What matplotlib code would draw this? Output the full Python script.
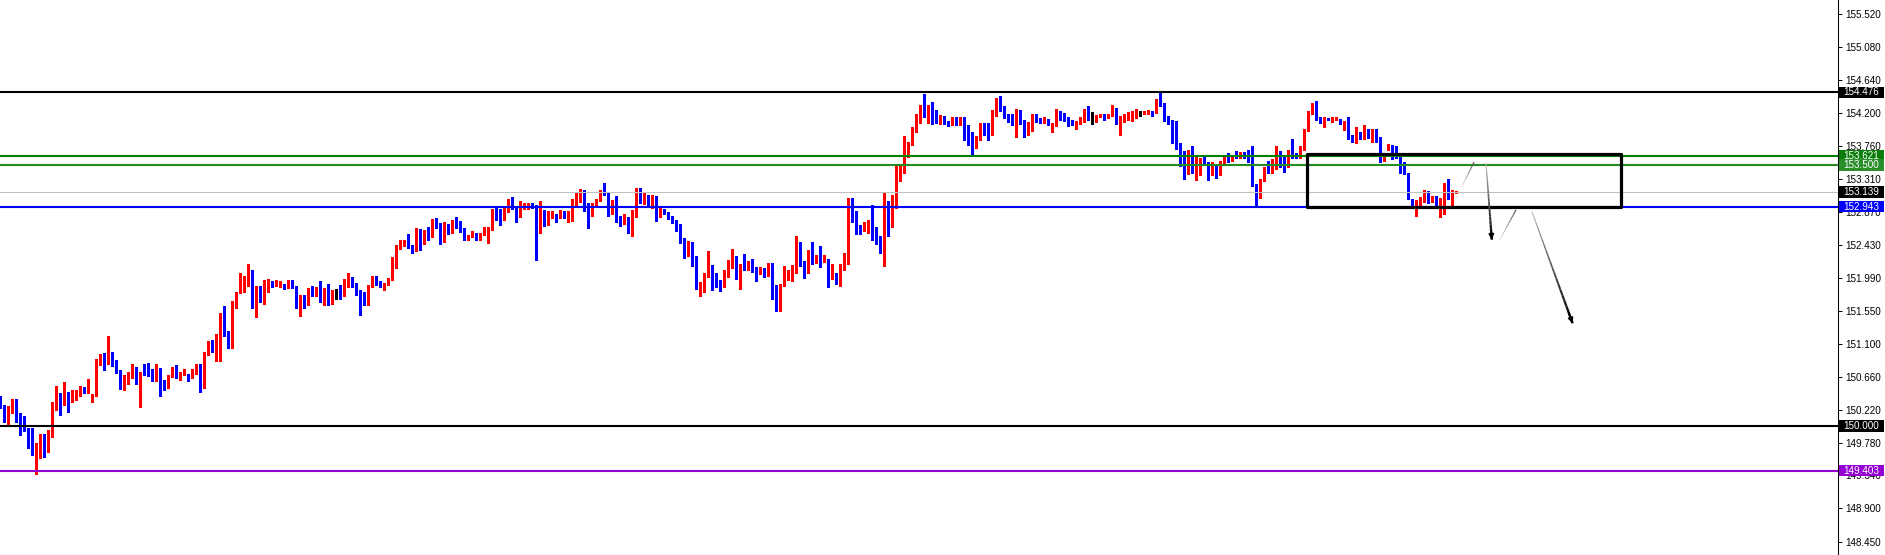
import numpy as np
import matplotlib
matplotlib.use("Agg")
import matplotlib.pyplot as plt
from matplotlib.patches import Rectangle
from matplotlib.collections import LineCollection
from matplotlib import transforms

# OHLC candles (oldest -> newest)
opens = [
    150.39, 150.25, 150.12, 150.23, 150.31, 150.17, 150.00, 149.97, 149.75, 149.61,
    149.68, 149.77, 149.65, 149.91, 150.22, 150.39, 150.35, 150.43, 150.32, 150.39,
    150.47, 150.50, 150.47, 150.36, 150.40, 150.82, 150.91, 150.90, 150.97, 150.87,
    150.73, 150.60, 150.63, 150.68, 150.74, 150.57, 150.73, 150.71, 150.70, 150.66,
    150.77, 150.61, 150.58, 150.66, 150.78, 150.68, 150.69, 150.66, 150.65, 150.72,
    150.82, 150.65, 150.97, 151.13, 151.04, 151.08, 151.52, 151.26, 151.16, 151.60,
    151.79, 151.91, 151.94, 152.03, 151.59, 151.87, 151.71, 151.84, 151.92, 151.90,
    151.91, 151.90, 151.86, 151.93, 151.88, 151.62, 151.75, 151.62, 151.80, 151.75,
    151.85, 151.73, 151.83, 151.68, 151.83, 151.83, 151.79, 151.92, 151.97, 151.89,
    151.78, 151.77, 151.62, 151.87, 151.99, 151.94, 151.88, 151.89, 151.98, 152.13,
    152.41, 152.45, 152.46, 152.42, 152.36, 152.64, 152.49, 152.60, 152.55, 152.78,
    152.66, 152.52, 152.67, 152.60, 152.73, 152.72, 152.62, 152.53, 152.55, 152.56,
    152.53, 152.58, 152.61, 152.63, 152.91, 152.90, 152.76, 152.89, 152.95, 152.92,
    152.82, 152.95, 152.96, 152.98, 152.95, 152.66, 152.82, 152.76, 152.81, 152.84,
    152.79, 152.87, 152.82, 152.75, 153.02, 153.06, 153.07, 152.90, 152.83, 152.97,
    153.03, 153.14, 153.13, 152.96, 153.03, 152.82, 152.74, 152.76, 152.62, 152.84,
    153.10, 152.99, 153.09, 152.97, 153.06, 152.81, 152.91, 152.85, 152.80, 152.76,
    152.70, 152.50, 152.39, 152.46, 152.28, 151.87, 151.92, 152.03, 152.15, 151.96,
    151.92, 151.86, 152.04, 152.13, 152.21, 151.98, 152.15, 152.10, 152.17, 152.10,
    152.05, 152.10, 152.02, 152.17, 151.75, 151.65, 151.89, 151.97, 152.04, 152.07,
    152.35, 152.16, 152.06, 152.35, 152.23, 152.24, 152.21, 152.24, 151.99, 152.04,
    151.91, 152.14, 152.25, 152.83, 152.82, 152.68, 152.62, 152.69, 152.73, 152.63,
    152.54, 152.33, 152.94, 152.76, 153.05, 153.33, 153.40, 153.75, 153.77, 153.95,
    154.11, 154.31, 154.19, 154.28, 154.17, 154.09, 154.11, 154.09, 154.05, 154.12,
    154.06, 154.10, 153.91, 153.90, 153.83, 153.88, 154.04, 153.94, 153.90, 154.22,
    154.31, 154.25, 154.15, 154.14, 154.10, 154.15, 154.08, 153.93, 154.04, 154.12,
    154.11, 154.08, 154.11, 153.95, 154.02, 154.20, 154.18, 154.13, 154.09, 154.05,
    154.06, 154.11, 154.19, 154.13, 154.10, 154.16, 154.17, 154.15, 154.18, 154.25,
    154.03, 154.10, 154.13, 154.15, 154.16, 154.20, 154.19, 154.19, 154.22, 154.20,
    154.34, 154.32, 154.11, 154.10, 154.08, 153.73, 153.64, 153.59, 153.64, 153.48,
    153.55, 153.57, 153.52, 153.38, 153.49, 153.38, 153.55, 153.60, 153.56, 153.64,
    153.61, 153.66, 153.62, 153.56, 153.23, 153.10, 153.29, 153.51, 153.48, 153.52,
    153.67, 153.56, 153.50, 153.68, 153.64, 153.60, 153.72, 153.97, 154.19, 154.31,
    154.13, 154.07, 154.13, 154.10, 154.11, 154.11, 154.06, 154.09, 153.89, 153.85,
    153.94, 153.86, 153.96, 153.86, 153.98, 153.87, 153.56, 153.71, 153.76, 153.64,
    153.61, 153.52, 153.40, 153.05, 152.97, 153.00, 153.05, 153.14, 153.01, 153.05,
    152.97, 152.97, 153.20, 153.12, 153.13,
]
highs = [
    150.40, 150.28, 150.27, 150.36, 150.37, 150.17, 150.13, 149.98, 149.97, 149.78,
    149.90, 149.89, 149.95, 150.32, 150.54, 150.44, 150.59, 150.46, 150.49, 150.48,
    150.54, 150.53, 150.63, 150.43, 150.90, 150.97, 150.98, 151.21, 150.99, 150.89,
    150.75, 150.69, 150.73, 150.83, 150.79, 150.73, 150.84, 150.85, 150.77, 150.84,
    150.78, 150.62, 150.68, 150.79, 150.82, 150.73, 150.76, 150.70, 150.77, 150.83,
    150.84, 150.99, 151.14, 151.16, 151.24, 151.52, 151.61, 151.27, 151.68, 151.80,
    152.05, 152.01, 152.17, 152.09, 151.88, 151.88, 151.96, 151.97, 151.94, 151.96,
    151.95, 151.91, 151.96, 151.96, 151.88, 151.76, 151.76, 151.85, 151.88, 151.87,
    151.95, 151.85, 151.91, 151.83, 151.84, 151.89, 151.97, 152.05, 152.00, 151.92,
    151.83, 151.80, 151.89, 152.01, 152.01, 151.95, 151.92, 151.99, 152.27, 152.43,
    152.50, 152.49, 152.58, 152.43, 152.65, 152.64, 152.63, 152.67, 152.78, 152.79,
    152.72, 152.74, 152.71, 152.76, 152.81, 152.75, 152.65, 152.56, 152.62, 152.59,
    152.59, 152.67, 152.67, 152.91, 152.93, 152.91, 152.92, 153.05, 153.07, 152.95,
    153.02, 152.99, 152.99, 152.99, 152.96, 153.02, 152.90, 152.88, 152.88, 152.85,
    152.90, 152.88, 152.89, 153.04, 153.14, 153.18, 153.16, 152.99, 152.99, 153.05,
    153.17, 153.26, 153.14, 153.03, 153.08, 152.82, 152.84, 152.81, 152.90, 153.19,
    153.19, 153.12, 153.10, 153.10, 153.08, 152.92, 152.91, 152.87, 152.82, 152.77,
    152.71, 152.52, 152.48, 152.47, 152.28, 151.93, 152.05, 152.35, 152.16, 152.05,
    151.96, 152.09, 152.23, 152.38, 152.28, 152.18, 152.31, 152.21, 152.24, 152.13,
    152.13, 152.12, 152.19, 152.19, 151.89, 151.91, 152.15, 152.10, 152.16, 152.55,
    152.47, 152.21, 152.36, 152.47, 152.29, 152.42, 152.29, 152.24, 152.17, 152.06,
    152.17, 152.32, 153.06, 153.06, 152.88, 152.70, 152.74, 152.76, 152.96, 152.67,
    152.55, 153.14, 153.02, 153.10, 153.50, 153.51, 153.89, 153.81, 154.01, 154.19,
    154.31, 154.45, 154.31, 154.35, 154.24, 154.17, 154.16, 154.09, 154.15, 154.14,
    154.14, 154.14, 154.04, 153.95, 153.89, 154.07, 154.06, 154.07, 154.24, 154.40,
    154.42, 154.29, 154.18, 154.19, 154.25, 154.24, 154.10, 154.08, 154.18, 154.18,
    154.13, 154.14, 154.12, 154.07, 154.25, 154.22, 154.20, 154.14, 154.10, 154.09,
    154.14, 154.25, 154.29, 154.21, 154.17, 154.19, 154.18, 154.19, 154.31, 154.26,
    154.16, 154.19, 154.21, 154.23, 154.25, 154.23, 154.23, 154.24, 154.23, 154.39,
    154.48, 154.33, 154.16, 154.11, 154.09, 153.80, 153.69, 153.70, 153.76, 153.61,
    153.60, 153.64, 153.54, 153.54, 153.52, 153.56, 153.64, 153.66, 153.64, 153.69,
    153.68, 153.68, 153.70, 153.76, 153.24, 153.32, 153.47, 153.55, 153.58, 153.75,
    153.69, 153.61, 153.70, 153.85, 153.66, 153.76, 153.99, 154.23, 154.33, 154.36,
    154.15, 154.14, 154.13, 154.15, 154.15, 154.12, 154.09, 154.15, 153.90, 154.01,
    153.95, 154.04, 153.98, 153.99, 153.99, 153.88, 153.66, 153.78, 153.77, 153.75,
    153.64, 153.54, 153.40, 153.05, 153.03, 153.07, 153.17, 153.15, 153.09, 153.08,
    153.06, 153.26, 153.31, 153.17, 153.15,
]
lows = [
    150.24, 150.05, 150.03, 150.17, 150.05, 149.88, 149.93, 149.71, 149.61, 149.36,
    149.58, 149.59, 149.65, 149.86, 150.22, 150.15, 150.28, 150.19, 150.32, 150.35,
    150.40, 150.44, 150.45, 150.33, 150.40, 150.82, 150.75, 150.84, 150.80, 150.71,
    150.50, 150.48, 150.57, 150.64, 150.57, 150.26, 150.68, 150.67, 150.60, 150.61,
    150.40, 150.48, 150.51, 150.66, 150.65, 150.62, 150.68, 150.60, 150.64, 150.70,
    150.46, 150.51, 150.95, 150.99, 150.88, 150.87, 151.21, 151.05, 151.05, 151.59,
    151.78, 151.80, 151.88, 151.59, 151.46, 151.66, 151.64, 151.80, 151.87, 151.88,
    151.87, 151.84, 151.85, 151.85, 151.58, 151.48, 151.58, 151.62, 151.74, 151.74,
    151.67, 151.62, 151.62, 151.64, 151.70, 151.71, 151.74, 151.86, 151.86, 151.76,
    151.49, 151.62, 151.62, 151.86, 151.89, 151.87, 151.82, 151.89, 151.96, 152.12,
    152.38, 152.41, 152.39, 152.32, 152.35, 152.36, 152.44, 152.50, 152.54, 152.65,
    152.44, 152.47, 152.57, 152.59, 152.66, 152.60, 152.50, 152.49, 152.54, 152.50,
    152.50, 152.56, 152.46, 152.63, 152.76, 152.70, 152.76, 152.87, 152.91, 152.74,
    152.81, 152.91, 152.91, 152.92, 152.23, 152.59, 152.68, 152.70, 152.79, 152.74,
    152.79, 152.79, 152.74, 152.75, 152.97, 153.01, 152.88, 152.65, 152.82, 152.96,
    153.02, 153.10, 152.82, 152.84, 152.74, 152.69, 152.71, 152.59, 152.55, 152.80,
    152.99, 152.98, 152.96, 152.93, 152.75, 152.81, 152.85, 152.78, 152.72, 152.62,
    152.46, 152.26, 152.28, 152.15, 151.84, 151.75, 151.80, 152.00, 151.83, 151.86,
    151.81, 151.86, 152.00, 152.12, 151.97, 151.84, 152.10, 152.09, 152.07, 151.94,
    152.04, 152.00, 152.01, 151.70, 151.54, 151.55, 151.88, 151.96, 151.95, 152.05,
    152.15, 151.99, 152.05, 152.18, 152.19, 152.13, 152.20, 151.86, 151.97, 151.90,
    151.88, 152.09, 152.17, 152.74, 152.58, 152.58, 152.61, 152.59, 152.50, 152.44,
    152.32, 152.15, 152.55, 152.67, 152.93, 153.28, 153.39, 153.61, 153.77, 153.95,
    154.07, 154.14, 154.07, 154.05, 154.06, 154.05, 154.05, 154.02, 154.04, 154.04,
    154.04, 153.83, 153.77, 153.64, 153.73, 153.84, 153.90, 153.83, 153.90, 154.16,
    154.23, 154.13, 154.08, 154.04, 153.88, 154.05, 153.88, 153.90, 153.96, 154.08,
    154.07, 154.07, 154.04, 153.95, 154.02, 154.11, 154.09, 154.03, 154.04, 153.99,
    154.05, 154.08, 154.10, 154.05, 154.08, 154.14, 154.10, 154.13, 154.16, 154.05,
    153.90, 154.08, 154.10, 154.09, 154.13, 154.16, 154.18, 154.18, 154.16, 154.20,
    154.29, 154.09, 154.05, 153.80, 153.71, 153.49, 153.31, 153.38, 153.40, 153.30,
    153.37, 153.53, 153.30, 153.37, 153.33, 153.37, 153.53, 153.54, 153.56, 153.60,
    153.59, 153.60, 153.54, 153.22, 152.96, 153.06, 153.28, 153.40, 153.39, 153.45,
    153.47, 153.41, 153.48, 153.60, 153.60, 153.59, 153.70, 153.96, 154.18, 154.10,
    154.07, 154.01, 154.10, 154.08, 154.10, 154.05, 153.97, 153.85, 153.81, 153.79,
    153.85, 153.85, 153.86, 153.81, 153.81, 153.54, 153.55, 153.70, 153.58, 153.59,
    153.40, 153.38, 153.05, 152.96, 152.82, 152.97, 153.00, 152.99, 153.00, 152.96,
    152.81, 152.85, 153.05, 152.97, 153.12,
]
closes = [
    150.25, 150.13, 150.24, 150.31, 150.17, 150.01, 149.96, 149.73, 149.61, 149.71,
    149.77, 149.65, 149.94, 150.23, 150.38, 150.35, 150.43, 150.32, 150.40, 150.48,
    150.50, 150.47, 150.59, 150.41, 150.83, 150.91, 150.89, 150.97, 150.88, 150.72,
    150.60, 150.64, 150.68, 150.74, 150.57, 150.73, 150.70, 150.69, 150.66, 150.77,
    150.58, 150.59, 150.67, 150.78, 150.68, 150.70, 150.74, 150.64, 150.73, 150.82,
    150.65, 150.99, 151.13, 151.04, 151.09, 151.52, 151.25, 151.16, 151.61, 151.80,
    151.92, 151.95, 152.03, 151.59, 151.87, 151.71, 151.85, 151.92, 151.91, 151.92,
    151.92, 151.85, 151.93, 151.87, 151.62, 151.75, 151.63, 151.80, 151.75, 151.87,
    151.72, 151.83, 151.68, 151.83, 151.83, 151.79, 151.93, 151.97, 151.87, 151.78,
    151.77, 151.62, 151.88, 151.98, 151.94, 151.88, 151.90, 151.99, 152.16, 152.42,
    152.46, 152.47, 152.41, 152.36, 152.64, 152.49, 152.62, 152.56, 152.77, 152.66,
    152.53, 152.68, 152.60, 152.72, 152.71, 152.60, 152.53, 152.56, 152.56, 152.53,
    152.59, 152.62, 152.64, 152.91, 152.88, 152.76, 152.90, 152.93, 152.92, 152.82,
    152.95, 152.96, 152.98, 152.95, 152.66, 152.82, 152.75, 152.82, 152.84, 152.79,
    152.87, 152.82, 152.88, 153.03, 153.07, 153.08, 152.89, 152.83, 152.98, 153.05,
    153.14, 153.11, 152.96, 153.02, 152.81, 152.74, 152.76, 152.62, 152.84, 153.11,
    153.00, 153.09, 152.97, 153.06, 152.81, 152.91, 152.85, 152.80, 152.75, 152.69,
    152.49, 152.39, 152.45, 152.27, 151.87, 151.92, 152.03, 152.15, 151.95, 151.91,
    151.86, 152.04, 152.14, 152.21, 152.00, 152.15, 152.10, 152.17, 152.09, 152.06,
    152.11, 152.03, 152.17, 151.73, 151.64, 151.89, 151.97, 152.05, 152.08, 152.36,
    152.17, 152.06, 152.35, 152.23, 152.24, 152.22, 152.24, 152.00, 152.04, 151.91,
    152.15, 152.26, 152.83, 152.81, 152.71, 152.63, 152.70, 152.73, 152.62, 152.54,
    152.33, 152.94, 152.76, 153.05, 153.34, 153.40, 153.76, 153.78, 153.96, 154.12,
    154.31, 154.19, 154.27, 154.16, 154.10, 154.11, 154.08, 154.06, 154.11, 154.06,
    154.10, 153.89, 153.89, 153.83, 153.88, 154.04, 153.91, 153.90, 154.22, 154.31,
    154.24, 154.14, 154.11, 154.10, 154.15, 154.07, 153.94, 154.05, 154.13, 154.09,
    154.08, 154.10, 154.06, 154.04, 154.20, 154.17, 154.10, 154.09, 154.05, 154.07,
    154.13, 154.19, 154.10, 154.13, 154.16, 154.17, 154.15, 154.18, 154.25, 154.06,
    154.10, 154.14, 154.16, 154.17, 154.20, 154.20, 154.22, 154.22, 154.21, 154.34,
    154.31, 154.10, 154.08, 154.07, 153.73, 153.61, 153.58, 153.64, 153.48, 153.56,
    153.57, 153.54, 153.38, 153.48, 153.37, 153.56, 153.60, 153.58, 153.63, 153.61,
    153.66, 153.61, 153.55, 153.23, 153.15, 153.31, 153.45, 153.48, 153.52, 153.67,
    153.54, 153.50, 153.68, 153.61, 153.61, 153.72, 153.98, 154.21, 154.31, 154.11,
    154.10, 154.13, 154.11, 154.14, 154.13, 154.08, 154.09, 153.88, 153.86, 153.95,
    153.87, 153.95, 153.87, 153.98, 153.88, 153.56, 153.62, 153.75, 153.65, 153.60,
    153.49, 153.40, 153.05, 152.97, 153.01, 153.05, 153.14, 153.02, 153.05, 152.97,
    153.05, 153.19, 153.12, 153.14, 153.14,
]

# horizontal levels: price, colour
levels = [154.476, 153.621, 153.500, 153.139, 152.943, 150.000, 149.403]
level_colors = ["#000000", "#008000", "#228B22", "#C0C0C0", "#0000FF", "#000000", "#9400D3"]
level_widths = [1.5, 1.5, 1.5, 0.75, 1.5, 1.5, 1.5]
tag_colors = ["#000000", "#0a7d0a", "#2a8f2a", "#000000", "#0000FF", "#000000", "#9400D3"]

yticks = [155.520, 155.080, 154.640, 154.200, 153.760, 153.310, 152.870, 152.430,
          151.990, 151.550, 151.100, 150.660, 150.220, 149.780, 149.340, 148.900, 148.450]

# drawn objects anchored at (bar index, price)
box = (326.6, 405.1, 152.943, 153.645)
paths = [
    ((365.4, 153.21), (368.45, 153.54), False),
    ((371.45, 153.53), (372.9, 152.50), True),
    ((374.8, 152.49), (378.95, 152.90), False),
    ((382.9, 152.88), (393.1, 151.38), True),
]

plt.rcParams['font.family'] = ['Liberation Sans', 'DejaVu Sans']

fig = plt.figure(figsize=(18.85, 5.55), dpi=100)
ax = fig.add_axes([0, 0, 1838 / 1885, 1])
ax.set_xlim(-0.05, 459.45)
ax.set_ylim(148.273, 155.713)

o = np.array(opens)
h = np.array(highs)
l = np.array(lows)
c = np.array(closes)
x = np.arange(len(c))

cols = np.where(c > o, "#FF0000", np.where(c < o, "#0000FF", "#000000"))
ax.vlines(x, l, h, colors=cols, linewidth=0.75, antialiased=False, zorder=2)
body_lo = np.minimum(o, c)
body_h = np.maximum(np.abs(c - o), 0.013)
ax.bar(x, body_h, bottom=body_lo, width=0.78, color=cols, linewidth=0,
       antialiased=False, zorder=2)

for lv, col, lw in zip(levels, level_colors, level_widths):
    ax.axhline(lv, color=col, linewidth=lw, zorder=3)

# rectangle zone
ax.add_patch(Rectangle((box[0], box[2]), box[1] - box[0], box[3] - box[2],
                       fill=False, edgecolor="black", linewidth=2.3,
                       joinstyle="round", zorder=4))


def fade_line(p0, p1, arrow):
    n = 20
    xs = np.linspace(p0[0], p1[0], n + 1)
    ys = np.linspace(p0[1], p1[1], n + 1)
    segs = [[(xs[i], ys[i]), (xs[i + 1], ys[i + 1])] for i in range(n)]
    t = np.linspace(0, 1, n)
    if arrow:
        shade = 0.7 - 0.7 * t
        widths = 0.7 + 1.1 * t
    else:
        shade = 0.85 - 0.55 * t
        widths = 0.5 + 0.4 * t
    colors = [(s, s, s) for s in shade]
    ax.add_collection(LineCollection(segs, colors=colors, linewidths=widths, zorder=5))
    if arrow:
        ax.annotate("", xy=p1, xytext=(xs[-3], ys[-3]),
                    arrowprops=dict(arrowstyle="-|>", color="black", lw=1.3,
                                    mutation_scale=7, shrinkA=0, shrinkB=0),
                    zorder=5)


for p0, p1, arr in paths:
    fade_line(p0, p1, arr)

# axis on the right
for side in ["left", "top", "bottom"]:
    ax.spines[side].set_visible(False)
ax.spines["right"].set_linewidth(0.75)
ax.set_xticks([])
ax.yaxis.tick_right()
ax.set_yticks(yticks)
ax.set_yticklabels([f"{v:.3f}" for v in yticks])
ax.tick_params(axis="y", direction="out", length=3, width=0.7, pad=2,
               labelsize=7.1, colors="black")

# price tags on the axis (they cover the tick label underneath, as in the terminal)
tr = transforms.blended_transform_factory(ax.transAxes, ax.transData)
px = 1 / 1838
tag_h = 11.5 / 74.6
for lv, col in zip(levels, tag_colors):
    ax.add_patch(Rectangle((1 + 1 * px, lv - tag_h / 2), 45 * px, tag_h,
                           transform=tr, facecolor=col, edgecolor="none",
                           clip_on=False, zorder=6))
    ax.text(1 + 5 * px, lv, f"{lv:.3f}", transform=tr, color="white",
            fontsize=7.1, va="center", ha="left", clip_on=False, zorder=7)

fig.savefig("out.png", dpi=100)
